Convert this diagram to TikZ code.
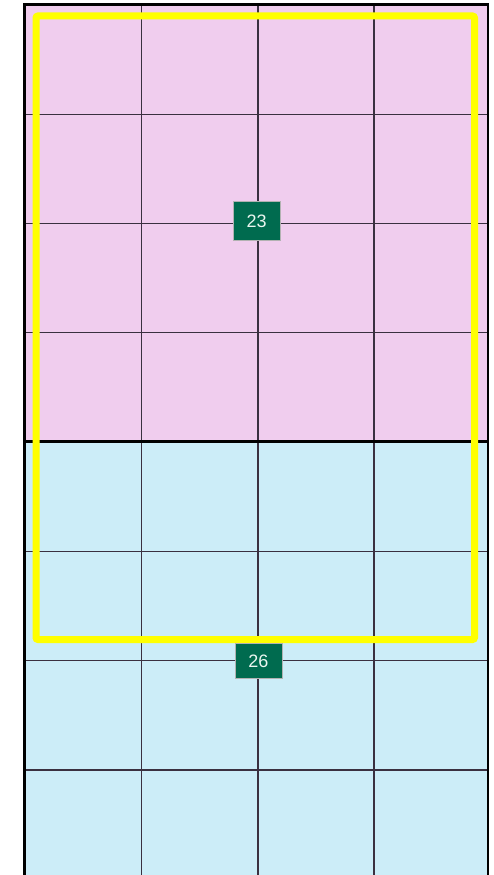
\documentclass[tikz,border=0pt]{standalone}
\usepackage{fontspec}
\setmainfont{Liberation Sans}
\definecolor{pinkfill}{HTML}{F0CDEE}
\definecolor{bluefill}{HTML}{CCEDF8}
\definecolor{gridline}{HTML}{3A3040}
\definecolor{tagfill}{HTML}{006B4F}
\definecolor{tagtext}{HTML}{EAF6F0}
\definecolor{hiyellow}{HTML}{FFFF00}
\tikzset{
  gridrule/.style={draw=gridline, line width=1.7pt},
  tagbox/.style={fill=tagfill, draw=gray!60, line width=0.6pt, text=tagtext, font=\fontsize{18}{18}\selectfont, minimum width=47pt, inner sep=0pt},
  highlight/.style={draw=hiyellow, line width=7pt, rounded corners=2pt}
}
\begin{document}
\begin{tikzpicture}[x=1pt,y=-1pt]
\useasboundingbox (0,0) rectangle (493,875);
\begin{scope}
\clip (0,0) rectangle (493,875);
\fill[pinkfill] (24.5,4.5) rectangle (488,441.5);
\fill[bluefill] (24.5,441.5) rectangle (488,880);
\foreach \x in {141.5,258,374} \draw[gridrule] (\x,4.5) -- (\x,880);
\foreach \y in {114.5,223.5,332.5,551.5,660.5,770} \draw[gridrule] (24.5,\y) -- (488,\y);
\draw[black, line width=2.4pt] (24.5,441.5) -- (488,441.5);
\draw[black, line width=2.6pt] (24.5,880) -- (24.5,4.5) -- (488,4.5) -- (488,880);
\end{scope}
\draw[highlight] (36,16) rectangle (474.5,639.5);
\node[tagbox, minimum height=39pt] (t23) at (256.7,221) {23};
\node[tagbox, minimum height=35pt] (t26) at (258.3,661) {26};
\end{tikzpicture}
\end{document}
